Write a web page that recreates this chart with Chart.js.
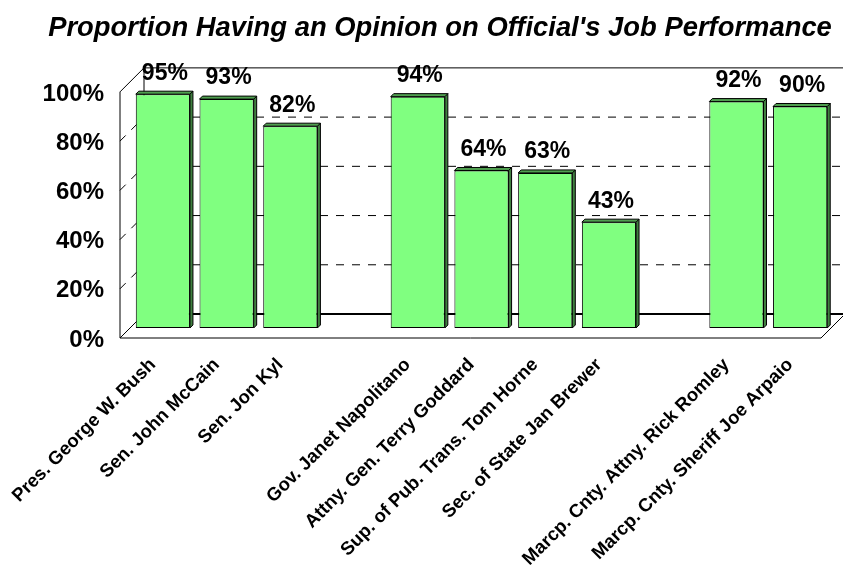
<!DOCTYPE html>
<html>
<head>
<meta charset="utf-8">
<title>Job Performance Opinion</title>
<script src="https://cdn.jsdelivr.net/npm/chart.js@4"></script>
<style>
  html, body { margin: 0; padding: 0; background: #fff; }
  canvas { display: block; }
</style>
</head>
<body>
<canvas id="chart" width="843" height="565"></canvas>
<script>
const titleText = "Proportion Having an Opinion on Official's Job Performance";
const categories = ['Pres. George W. Bush', 'Sen. John McCain', 'Sen. Jon Kyl', '',
  'Gov. Janet Napolitano', 'Attny. Gen. Terry Goddard', 'Sup. of Pub. Trans. Tom Horne', 'Sec. of State Jan Brewer', '',
  'Marcp. Cnty. Attny. Rick Romley', 'Marcp. Cnty. Sheriff Joe Arpaio'];
const opinionPct = [95, 93, 82, null, 94, 64, 63, 43, null, 92, 90];
const yTicks = [0, 20, 40, 60, 80, 100];

const FONT = '"Liberation Sans", Arial, sans-serif';
const BAR_DEPTH = 3;

// fake 3d box behind the bars, everything is offset from the y/x scales
const FRONT = { x: -11, y: 10 };
const BACK = { x: 13, y: -14 };

const line = (ctx, x1, y1, x2, y2) => {
  ctx.beginPath();
  ctx.moveTo(x1, y1);
  ctx.lineTo(x2, y2);
  ctx.stroke();
};

const box3d = {
  id: 'box3d',
  beforeDatasetsDraw(chart) {
    const { ctx, scales: { x, y } } = chart;
    const left = x.left, right = x.right;
    const y0 = y.getPixelForValue(0), y100 = y.getPixelForValue(100);
    ctx.save();
    ctx.strokeStyle = '#000';

    // dashed grid on back wall and side wall
    ctx.lineWidth = 1;
    ctx.setLineDash([8, 8]);
    yTicks.slice(1, -1).forEach(v => {
      const p = y.getPixelForValue(v);
      line(ctx, left + BACK.x, p + BACK.y, right + BACK.x, p + BACK.y);
      line(ctx, left + FRONT.x, p + FRONT.y, left + BACK.x, p + BACK.y);
    });
    ctx.setLineDash([]);

    // walls
    line(ctx, left + FRONT.x, y0 + FRONT.y, left + FRONT.x, y100 + FRONT.y);
    line(ctx, left + FRONT.x, y100 + FRONT.y, left + BACK.x, y100 + BACK.y);
    line(ctx, left + BACK.x, y100 + BACK.y, left + BACK.x, y0 + BACK.y);
    line(ctx, left + BACK.x, y100 + BACK.y, right + BACK.x, y100 + BACK.y);

    // floor
    line(ctx, left + FRONT.x, y0 + FRONT.y, right + FRONT.x, y0 + FRONT.y);
    line(ctx, left + FRONT.x, y0 + FRONT.y, left + BACK.x, y0 + BACK.y);
    line(ctx, right + FRONT.x, y0 + FRONT.y, right + BACK.x, y0 + BACK.y);
    ctx.lineWidth = 2;
    line(ctx, left + BACK.x, y0 + BACK.y, right + BACK.x, y0 + BACK.y);

    // side and top of each bar
    ctx.lineWidth = 1;
    chart.getDatasetMeta(0).data.forEach((bar, i) => {
      if (opinionPct[i] == null) return;
      const r = bar.x + bar.width / 2, l = bar.x - bar.width / 2;
      const t = bar.y, b = bar.base;
      ctx.fillStyle = '#3f7f3f';
      ctx.beginPath();
      ctx.moveTo(r, t);
      ctx.lineTo(r + BAR_DEPTH, t - BAR_DEPTH);
      ctx.lineTo(r + BAR_DEPTH, b - BAR_DEPTH);
      ctx.lineTo(r, b);
      ctx.closePath();
      ctx.fill();
      ctx.stroke();
      ctx.fillStyle = '#4f9f4f';
      ctx.beginPath();
      ctx.moveTo(l, t);
      ctx.lineTo(l + BAR_DEPTH, t - BAR_DEPTH);
      ctx.lineTo(r + BAR_DEPTH, t - BAR_DEPTH);
      ctx.lineTo(r, t);
      ctx.closePath();
      ctx.fill();
      ctx.stroke();
    });
    ctx.restore();
  }
};

const valueLabels = {
  id: 'valueLabels',
  afterDatasetsDraw(chart) {
    const { ctx } = chart;
    ctx.save();
    ctx.font = 'bold 23px ' + FONT;
    ctx.fillStyle = '#000';
    ctx.textAlign = 'center';
    ctx.textBaseline = 'middle';
    chart.getDatasetMeta(0).data.forEach((bar, i) => {
      if (opinionPct[i] == null) return;
      ctx.fillText(opinionPct[i] + '%', bar.x + 2, bar.y - 21);
    });
    ctx.restore();
  }
};

new Chart(document.getElementById('chart'), {
  type: 'bar',
  data: {
    labels: categories,
    datasets: [{
      data: opinionPct,
      backgroundColor: '#80ff80',
      borderColor: '#000',
      borderWidth: 1,
      borderSkipped: false,
      barPercentage: 0.85,
      categoryPercentage: 1
    }]
  },
  plugins: [box3d, valueLabels],
  options: {
    responsive: false,
    animation: false,
    // left padding has to stay under the 100% label or the scale clips it
    layout: { padding: { left: 38, right: 1, top: 0, bottom: 0 } },
    plugins: {
      legend: { display: false },
      tooltip: { enabled: false },
      title: {
        display: true,
        text: titleText,
        color: '#000',
        font: { family: FONT, size: 27.4, weight: 'bold', style: 'italic', lineHeight: 1.2 },
        padding: { top: 12, bottom: 37 }
      }
    },
    scales: {
      x: {
        grid: { display: false, drawTicks: false },
        border: { display: false },
        ticks: {
          autoSkip: false,
          minRotation: 45,
          maxRotation: 45,
          padding: 26,
          labelOffset: -10,
          color: '#000',
          font: { family: FONT, size: 18.6, weight: 'bold' }
        },
        afterFit(scale) {
          scale.height = 237;
          scale.paddingLeft = 0;
          scale.paddingRight = 11;
        }
      },
      y: {
        min: 0,
        max: 100,
        afterBuildTicks(scale) { scale.ticks = yTicks.map(value => ({ value })); },
        grid: { display: false, drawTicks: false },
        border: { display: false },
        ticks: {
          padding: 27,
          labelOffset: 12,
          color: '#000',
          font: { family: FONT, size: 24, weight: 'bold' },
          callback: v => v + '%'
        },
        afterFit(scale) {
          scale.width = 93;
          scale.paddingTop = 0;
          scale.paddingBottom = 0;
        }
      }
    }
  }
});
</script>
</body>
</html>
